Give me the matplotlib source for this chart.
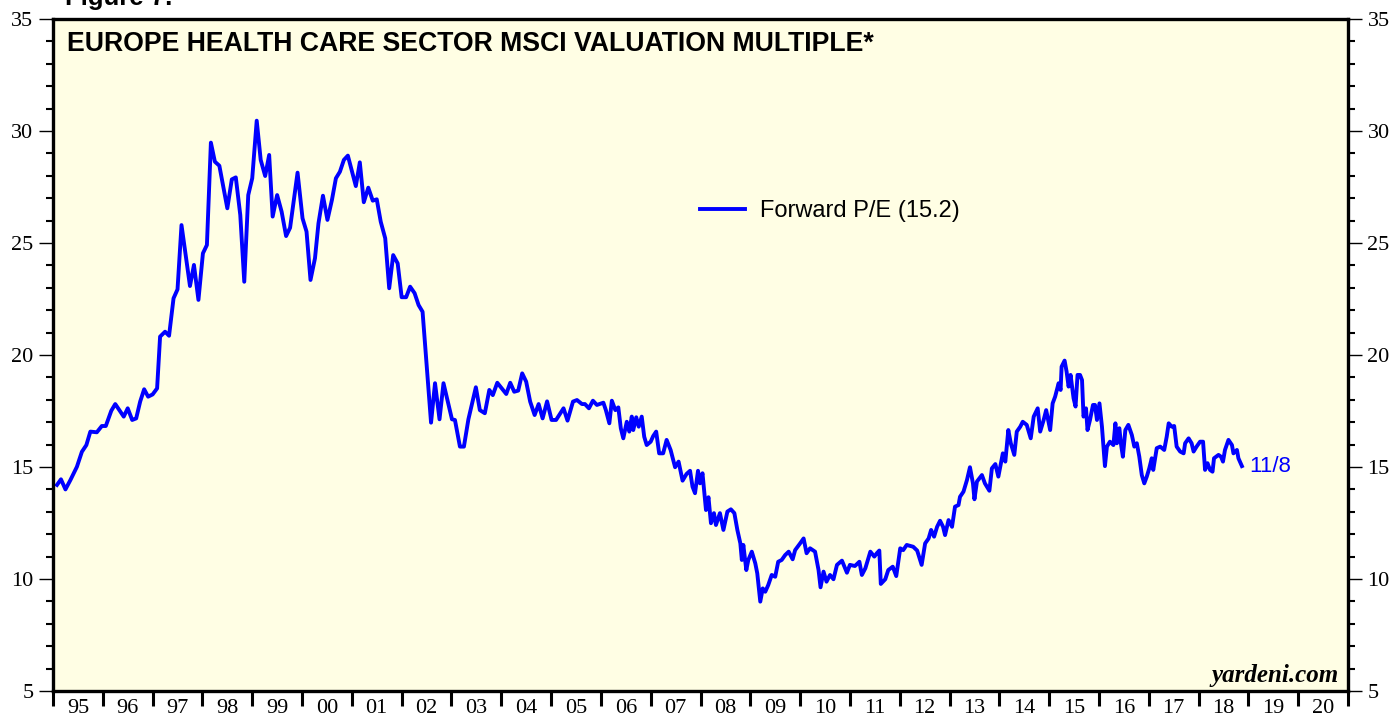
import numpy as np
import matplotlib.pyplot as plt
from matplotlib.ticker import MultipleLocator

# forward P/E (decimal years)
dates = [
    1995.08, 1995.16, 1995.25, 1995.35, 1995.48, 1995.58, 1995.67, 1995.75, 1995.88, 1995.98,
    1996.06, 1996.17, 1996.25, 1996.42, 1996.50, 1996.59, 1996.67, 1996.75, 1996.83, 1996.91,
    1997.00, 1997.09, 1997.15, 1997.25, 1997.33, 1997.42, 1997.50, 1997.58, 1997.75, 1997.83,
    1997.92, 1998.01, 1998.09, 1998.17, 1998.25, 1998.34, 1998.50, 1998.59, 1998.67, 1998.76,
    1998.84, 1998.92, 1999.00, 1999.09, 1999.17, 1999.26, 1999.34, 1999.41, 1999.50, 1999.59,
    1999.68, 1999.76, 1999.91, 2000.01, 2000.09, 2000.17, 2000.26, 2000.33, 2000.42, 2000.51,
    2000.60, 2000.68, 2000.76, 2000.84, 2000.92, 2001.08, 2001.16, 2001.24, 2001.33, 2001.42,
    2001.50, 2001.58, 2001.67, 2001.75, 2001.83, 2001.92, 2002.00, 2002.09, 2002.17, 2002.26,
    2002.34, 2002.42, 2002.59, 2002.67, 2002.76, 2002.84, 2003.01, 2003.07, 2003.17, 2003.25,
    2003.34, 2003.49, 2003.57, 2003.67, 2003.76, 2003.83, 2003.92, 2004.10, 2004.18, 2004.26,
    2004.34, 2004.42, 2004.50, 2004.58, 2004.67, 2004.75, 2004.83, 2004.92, 2005.01, 2005.10,
    2005.25, 2005.33, 2005.44, 2005.52, 2005.62, 2005.68, 2005.76, 2005.84, 2005.92, 2006.05,
    2006.10, 2006.17, 2006.22, 2006.29, 2006.35, 2006.40, 2006.45, 2006.52, 2006.57, 2006.62,
    2006.65, 2006.71, 2006.76, 2006.82, 2006.87, 2006.92, 2007.00, 2007.05, 2007.11, 2007.17,
    2007.25, 2007.32, 2007.40, 2007.49, 2007.56, 2007.64, 2007.72, 2007.79, 2007.84, 2007.89,
    2007.95, 2007.99, 2008.04, 2008.11, 2008.16, 2008.21, 2008.27, 2008.31, 2008.39, 2008.46,
    2008.54, 2008.61, 2008.68, 2008.74, 2008.80, 2008.83, 2008.86, 2008.92, 2008.96, 2009.03,
    2009.10, 2009.14, 2009.20, 2009.25, 2009.30, 2009.36, 2009.43, 2009.50, 2009.56, 2009.63,
    2009.70, 2009.77, 2009.85, 2009.90, 2010.00, 2010.07, 2010.13, 2010.20, 2010.30, 2010.37,
    2010.41, 2010.47, 2010.53, 2010.60, 2010.67, 2010.74, 2010.84, 2010.94, 2011.00, 2011.10,
    2011.19, 2011.24, 2011.31, 2011.41, 2011.49, 2011.54, 2011.59, 2011.62, 2011.71, 2011.77,
    2011.86, 2011.93, 2012.01, 2012.07, 2012.14, 2012.27, 2012.35, 2012.44, 2012.51, 2012.58,
    2012.63, 2012.69, 2012.75, 2012.81, 2012.87, 2012.91, 2012.98, 2013.05, 2013.11, 2013.18,
    2013.21, 2013.28, 2013.35, 2013.41, 2013.47, 2013.50, 2013.55, 2013.65, 2013.71, 2013.80,
    2013.85, 2013.92, 2013.98, 2014.07, 2014.12, 2014.18, 2014.23, 2014.30, 2014.35, 2014.42,
    2014.47, 2014.55, 2014.63, 2014.69, 2014.77, 2014.82, 2014.89, 2014.94, 2015.02, 2015.07,
    2015.12, 2015.19, 2015.23, 2015.25, 2015.31, 2015.35, 2015.39, 2015.43, 2015.49, 2015.53,
    2015.57, 2015.62, 2015.66, 2015.69, 2015.74, 2015.77, 2015.82, 2015.88, 2015.92, 2015.96,
    2016.01, 2016.06, 2016.12, 2016.16, 2016.22, 2016.29, 2016.33, 2016.36, 2016.41, 2016.44,
    2016.48, 2016.53, 2016.59, 2016.66, 2016.71, 2016.76, 2016.81, 2016.86, 2016.91, 2016.96,
    2017.01, 2017.06, 2017.09, 2017.16, 2017.23, 2017.31, 2017.36, 2017.40, 2017.46, 2017.51,
    2017.56, 2017.63, 2017.70, 2017.73, 2017.80, 2017.86, 2017.90, 2017.96, 2018.03, 2018.09,
    2018.13, 2018.18, 2018.23, 2018.28, 2018.31, 2018.40, 2018.45, 2018.49, 2018.53, 2018.60,
    2018.67, 2018.70, 2018.77, 2018.80, 2018.87,
]
forward_pe = [
    14.20, 14.45, 14.00, 14.42, 15.01, 15.68, 15.98, 16.58, 16.55, 16.83,
    16.83, 17.51, 17.81, 17.25, 17.62, 17.10, 17.17, 17.92, 18.47, 18.14,
    18.24, 18.51, 20.82, 21.04, 20.86, 22.53, 22.93, 25.80, 23.08, 24.02,
    22.46, 24.54, 24.91, 29.48, 28.63, 28.45, 26.55, 27.84, 27.93, 26.25,
    23.27, 27.14, 27.89, 30.46, 28.71, 27.99, 28.93, 26.18, 27.14, 26.40,
    25.31, 25.68, 28.14, 26.10, 25.51, 23.35, 24.32, 25.88, 27.11, 26.03,
    26.92, 27.89, 28.18, 28.71, 28.90, 27.54, 28.60, 26.82, 27.47, 26.89,
    26.95, 25.95, 25.21, 22.98, 24.46, 24.09, 22.58, 22.58, 23.05, 22.76,
    22.23, 21.93, 16.98, 18.74, 17.13, 18.74, 17.13, 17.10, 15.91, 15.91,
    17.13, 18.56, 17.54, 17.40, 18.44, 18.21, 18.76, 18.26, 18.76, 18.36,
    18.41, 19.18, 18.81, 17.92, 17.32, 17.81, 17.17, 17.93, 17.10, 17.10,
    17.62, 17.07, 17.92, 17.99, 17.81, 17.81, 17.62, 17.96, 17.77, 17.87,
    17.54, 16.95, 17.96, 17.54, 17.66, 16.73, 16.28, 17.02, 16.58, 17.25,
    16.65, 17.22, 16.80, 17.25, 16.35, 15.98, 16.13, 16.38, 16.58, 15.61,
    15.61, 16.21, 15.76, 14.99, 15.24, 14.39, 14.69, 14.83, 14.12, 13.83,
    14.83, 14.27, 14.72, 13.08, 13.65, 12.49, 12.94, 12.41, 12.94, 12.19,
    13.01, 13.11, 12.94, 12.19, 11.59, 10.85, 11.52, 10.40, 10.85, 11.22,
    10.70, 10.25, 8.99, 9.58, 9.43, 9.73, 10.18, 10.10, 10.77, 10.85,
    11.07, 11.22, 10.88, 11.29, 11.59, 11.81, 11.15, 11.37, 11.22, 10.40,
    9.63, 10.33, 9.88, 10.18, 9.99, 10.63, 10.82, 10.28, 10.63, 10.58,
    10.77, 10.18, 10.48, 11.22, 11.00, 11.15, 11.27, 9.78, 9.99, 10.40,
    10.55, 10.13, 11.37, 11.29, 11.52, 11.44, 11.27, 10.63, 11.59, 11.81,
    12.19, 11.89, 12.33, 12.60, 12.33, 11.96, 12.63, 12.33, 13.23, 13.30,
    13.67, 13.90, 14.42, 14.99, 14.27, 13.56, 14.35, 14.64, 14.27, 13.94,
    14.94, 15.13, 14.57, 15.61, 15.24, 16.65, 16.06, 15.54, 16.58, 16.80,
    17.02, 16.88, 16.28, 17.25, 17.62, 16.58, 17.10, 17.54, 16.65, 17.84,
    18.14, 18.74, 18.44, 19.48, 19.75, 19.26, 18.59, 19.11, 18.07, 17.70,
    19.11, 19.11, 18.88, 17.25, 17.62, 16.65, 17.10, 17.77, 17.77, 17.10,
    17.84, 16.80, 15.04, 15.91, 16.13, 15.98, 16.95, 16.06, 16.73, 16.06,
    15.46, 16.65, 16.88, 16.43, 15.91, 16.06, 15.46, 14.64, 14.27, 14.57,
    14.94, 15.39, 14.87, 15.84, 15.91, 15.76, 16.35, 16.95, 16.80, 16.83,
    15.91, 15.69, 15.61, 16.06, 16.28, 16.06, 15.69, 15.91, 16.13, 16.13,
    14.87, 15.17, 14.87, 14.79, 15.39, 15.54, 15.46, 15.24, 15.76, 16.21,
    15.98, 15.61, 15.76, 15.39, 15.04,
]
year_labels = ["95", "96", "97", "98", "99", "00", "01", "02", "03", "04", "05", "06", "07",
               "08", "09", "10", "11", "12", "13", "14", "15", "16", "17", "18", "19", "20"]
first_year = 1995

BLUE = "#0000FF"
SERIF = ["Liberation Serif", "DejaVu Serif"]
SANS = ["Liberation Sans", "DejaVu Sans"]

fig = plt.figure(figsize=(13.95, 7.21), dpi=100)
ax = fig.add_axes([53 / 1395, 1 - 691 / 721, 1295 / 1395, 672 / 721])
ax.set_facecolor("#FFFEE4")

ax.plot(dates, forward_pe, color=BLUE, lw=2.8, label="Forward P/E (15.2)")

ax.set_ylim(5, 35)
ax.set_xlim(first_year, first_year + len(year_labels))

for s in ax.spines.values():
    s.set_linewidth(2.4)

# y axis on both sides
ax.yaxis.set_major_locator(MultipleLocator(5))
ax.yaxis.set_minor_locator(MultipleLocator(1))
ax.tick_params(axis="y", which="both", direction="out", left=True, right=True,
               labelleft=True, labelright=True, labelsize=16)
ax.tick_params(axis="y", which="major", length=10, width=1, pad=4)
ax.tick_params(axis="y", which="minor", length=5, width=1.5)
for lab in ax.get_yticklabels():
    lab.set_family(SERIF)

# x axis: ticks on year boundaries, labels mid-year
years = np.arange(first_year, first_year + len(year_labels) + 1)
ax.set_xticks(years)
ax.set_xticklabels([])
ax.set_xticks(years[:-1] + 0.5, minor=True)
ax.set_xticklabels(year_labels, minor=True, family=SERIF, fontsize=16)
ax.tick_params(axis="x", which="major", direction="out", length=11, width=2.2)
ax.tick_params(axis="x", which="minor", length=0, pad=6)

ax.text(0.011, 0.982, "EUROPE HEALTH CARE SECTOR MSCI VALUATION MULTIPLE*",
        transform=ax.transAxes, ha="left", va="top", fontsize=19.2,
        fontweight="bold", family=SANS)
ax.text(0.993, 0.006, "yardeni.com", transform=ax.transAxes, ha="right", va="bottom",
        fontsize=18, fontweight="bold", style="italic", family=SERIF)
ax.annotate("11/8", xy=(dates[-1], forward_pe[-1]), xytext=(5, 0),
            textcoords="offset points", ha="left", va="center",
            color=BLUE, fontsize=16, family=SANS)

ax.legend(loc="center left", bbox_to_anchor=(0.4996, 0.714), frameon=False,
          borderpad=0, borderaxespad=0,
          prop={"family": SANS, "size": 17}, handlelength=1.9, handletextpad=0.65)

fig.text(65 / 1395, 1 - 5 / 721, "Figure 7.", ha="left", va="baseline",
         fontsize=18.5, fontweight="bold", family=SANS)

fig.savefig("out.png", dpi=100, facecolor="white")
